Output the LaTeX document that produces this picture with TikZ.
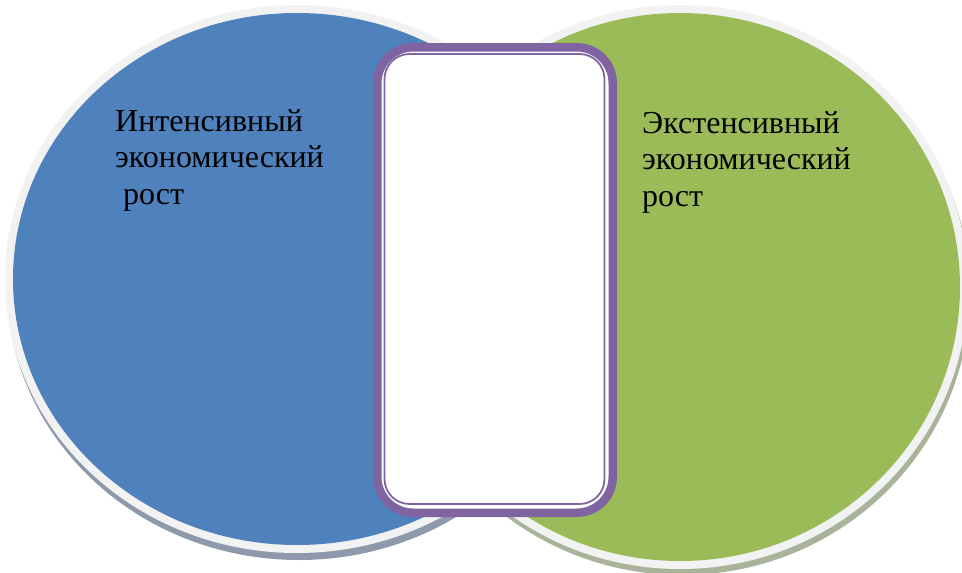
\documentclass[tikz,border=0pt]{standalone}
\usepackage{fontspec}
\setmainfont{Liberation Serif}
\definecolor{vblue}{HTML}{4F81BD}
\definecolor{vgreen}{HTML}{9BBB59}
\definecolor{vpurple}{HTML}{8064A2}
\definecolor{vring}{HTML}{F2F2F2}
\definecolor{bshadow}{HTML}{8E9AAB}
\definecolor{gshadow}{HTML}{A8B39A}
\tikzset{
  lbl/.style={inner sep=0pt, align=left, text=black, font=\fontsize{32}{36.5}\selectfont},
  outerframe/.style={draw=vpurple, line width=8.5pt, fill=white, rounded corners=36pt},
  innerframe/.style={draw=vpurple, line width=1.8pt, rounded corners=25pt}
}
\begin{document}
\begin{tikzpicture}[x=1pt,y=-1pt]
\useasboundingbox (0,0) rectangle (962,573);
\clip (0,0) rectangle (962,573);
% shadows
\fill[bshadow] (299,286) ellipse [x radius=292pt, y radius=274pt];
\fill[gshadow] (682,293) ellipse [x radius=288pt, y radius=282pt];
% blue circle
\fill[vring] (297,279) ellipse [x radius=292pt, y radius=274pt];
\fill[vblue] (297,279) ellipse [x radius=284pt, y radius=266pt];
% green circle
\fill[vring] (680,287) ellipse [x radius=288pt, y radius=282pt];
\fill[vgreen] (680,287) ellipse [x radius=280pt, y radius=274pt];
% middle frame
\draw[outerframe] (377.25,47.25) rectangle (612.75,512.75);
\draw[innerframe] (384.5,54) rectangle (604.5,504);
% texts (base anchor = baseline of the last line)
\node[lbl, anchor=base west] (intens) at (115,204) {Интенсивный\\экономический\\\ рост};
\node[lbl, anchor=base west] (extens) at (642,206) {Экстенсивный\\экономический\\рост};
\end{tikzpicture}
\end{document}
